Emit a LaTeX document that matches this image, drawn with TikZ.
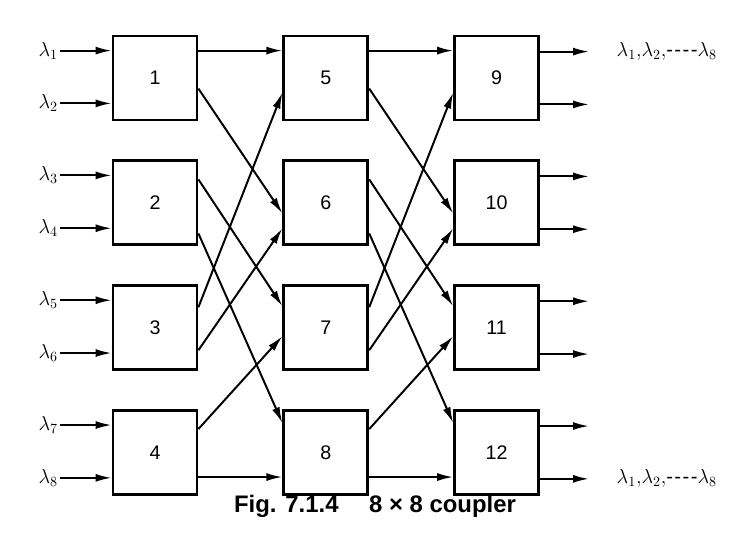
\documentclass[tikz,border=0pt]{standalone}
\usepackage{fontspec}
\setmainfont{Liberation Sans}
\usetikzlibrary{arrows.meta,positioning,calc}

\begin{document}
\begin{tikzpicture}[node distance=9.5mm and 21mm,
 box/.style={draw=black,line width=2pt,minimum size=21mm,inner sep=0pt,font=\fontsize{14}{16}\selectfont},
 arr/.style={-{Latex[length=4mm,width=2mm]},line width=1.4pt},
 lam/.style={font=\Large,inner sep=1pt}]
\useasboundingbox (0,0) rectangle (182.5mm,-134.75mm);
% couplers
\node[box] (b1) at (38.75mm,-19.5mm) {1};
\node[box,below=of b1] (b2) {2};
\node[box,below=of b2] (b3) {3};
\node[box,below=of b3] (b4) {4};
\node[box,right=of b1] (b5) {5};
\node[box,below=of b5] (b6) {6};
\node[box,below=of b6] (b7) {7};
\node[box,below=of b7] (b8) {8};
\node[box,right=of b5] (b9) {9};
\node[box,below=of b9] (b10) {10};
\node[box,below=of b10] (b11) {11};
\node[box,below=of b11] (b12) {12};
% inputs
\node[lam,anchor=east] (l1) at ([xshift=-13mm,yshift=-4mm]b1.north west) {$\lambda_1$};
\node[lam,anchor=east] (l2) at ([xshift=-13mm,yshift=4.5mm]b1.south west) {$\lambda_2$};
\node[lam,anchor=east] (l3) at ([xshift=-13mm,yshift=-4mm]b2.north west) {$\lambda_3$};
\node[lam,anchor=east] (l4) at ([xshift=-13mm,yshift=4.5mm]b2.south west) {$\lambda_4$};
\node[lam,anchor=east] (l5) at ([xshift=-13mm,yshift=-4mm]b3.north west) {$\lambda_5$};
\node[lam,anchor=east] (l6) at ([xshift=-13mm,yshift=4.5mm]b3.south west) {$\lambda_6$};
\node[lam,anchor=east] (l7) at ([xshift=-13mm,yshift=-4mm]b4.north west) {$\lambda_7$};
\node[lam,anchor=east] (l8) at ([xshift=-13mm,yshift=4.5mm]b4.south west) {$\lambda_8$};
\draw[arr] (l1)--(l1 -| b1.west);\draw[arr] (l2)--(l2 -| b1.west);
\draw[arr] (l3)--(l3 -| b2.west);\draw[arr] (l4)--(l4 -| b2.west);
\draw[arr] (l5)--(l5 -| b3.west);\draw[arr] (l6)--(l6 -| b3.west);
\draw[arr] (l7)--(l7 -| b4.west);\draw[arr] (l8)--(l8 -| b4.west);
% first stage
\draw[arr] ([yshift=-4mm]b1.north east)--([yshift=-4mm]b5.north west);
\draw[arr] ([yshift=-13.5mm]b1.north east)--([yshift=-13.5mm]b6.north west);
\draw[arr] ([yshift=-5mm]b2.north east)--([yshift=-5.5mm]b7.north west);
\draw[arr] ([yshift=-18.5mm]b2.north east)--([yshift=-3.5mm]b8.north west);
\draw[arr] ([yshift=-5.75mm]b3.north east)--([yshift=-14.5mm]b5.north west);
\draw[arr] ([yshift=-16.5mm]b3.north east)--([yshift=-17.25mm]b6.north west);
\draw[arr] ([yshift=-5mm]b4.north east)--([yshift=-13mm]b7.north west);
\draw[arr] ([yshift=-17mm]b4.north east)--([yshift=-17mm]b8.north west);
% second stage
\draw[arr] ([yshift=-4mm]b5.north east)--([yshift=-4mm]b9.north west);
\draw[arr] ([yshift=-13.5mm]b5.north east)--([yshift=-13.5mm]b10.north west);
\draw[arr] ([yshift=-5mm]b6.north east)--([yshift=-5.5mm]b11.north west);
\draw[arr] ([yshift=-18.5mm]b6.north east)--([yshift=-3.5mm]b12.north west);
\draw[arr] ([yshift=-5.75mm]b7.north east)--([yshift=-14.5mm]b9.north west);
\draw[arr] ([yshift=-16.5mm]b7.north east)--([yshift=-17.25mm]b10.north west);
\draw[arr] ([yshift=-5mm]b8.north east)--([yshift=-13mm]b11.north west);
\draw[arr] ([yshift=-17mm]b8.north east)--([yshift=-17mm]b12.north west);
% outputs
\coordinate (o1) at ([xshift=12.25mm,yshift=-4.25mm]b9.north east);
\coordinate (o2) at ([xshift=12.25mm,yshift=4.25mm]b9.south east);
\coordinate (o3) at ([xshift=12.25mm,yshift=-4.25mm]b10.north east);
\coordinate (o4) at ([xshift=12.25mm,yshift=4.25mm]b10.south east);
\coordinate (o5) at ([xshift=12.25mm,yshift=-4.25mm]b11.north east);
\coordinate (o6) at ([xshift=12.25mm,yshift=4.25mm]b11.south east);
\coordinate (o7) at ([xshift=12.25mm,yshift=-4.25mm]b12.north east);
\coordinate (o8) at ([xshift=12.25mm,yshift=4.25mm]b12.south east);
\draw[arr] (o1 -| b9.east)--(o1);\draw[arr] (o2 -| b9.east)--(o2);
\draw[arr] (o3 -| b10.east)--(o3);\draw[arr] (o4 -| b10.east)--(o4);
\draw[arr] (o5 -| b11.east)--(o5);\draw[arr] (o6 -| b11.east)--(o6);
\draw[arr] (o7 -| b12.east)--(o7);\draw[arr] (o8 -| b12.east)--(o8);
\node[lam,anchor=west] (out1) at ([xshift=6.5mm]o1) {$\lambda_1{,}\lambda_2{,}$-\kern1pt-\kern1pt-\kern1pt-$\lambda_8$};
\node[lam,anchor=west] (out8) at ([xshift=6.5mm]o8) {$\lambda_1{,}\lambda_2{,}$-\kern1pt-\kern1pt-\kern1pt-$\lambda_8$};
% caption
\node[font=\bfseries\fontsize{17}{20}\selectfont] (cap) at (93.75mm,-126.5mm) {Fig. 7.1.4\quad\ 8 × 8 coupler};
\end{tikzpicture}
\end{document}
